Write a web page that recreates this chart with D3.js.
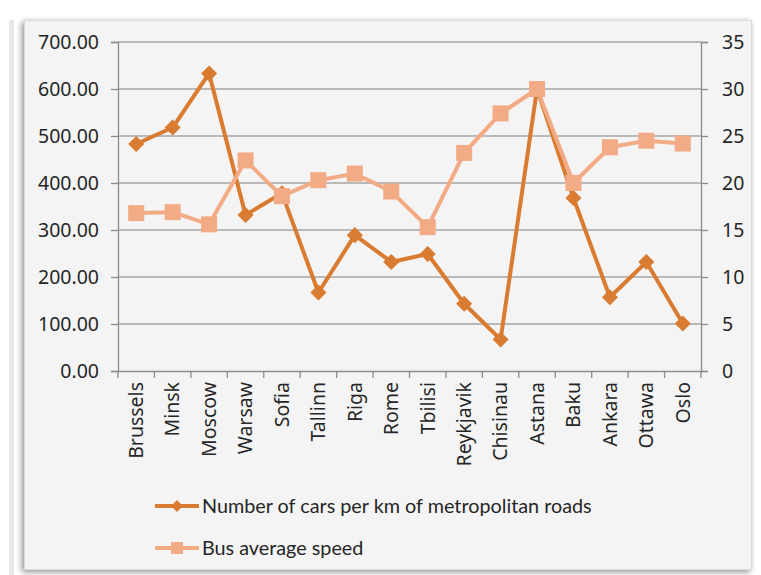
<!DOCTYPE html>
<html>
<head>
<meta charset="utf-8">
<script src="https://cdn.jsdelivr.net/npm/d3@7"></script>
<style>
  html, body { margin: 0; padding: 0; background: #fff; }
  svg { display: block; }
</style>
</head>
<body>
<div id="chart"></div>
<script>
// Cars per km of metropolitan roads vs bus average speed, by city
const cities = ['Brussels','Minsk','Moscow','Warsaw','Sofia','Tallinn','Riga','Rome','Tbilisi',
  'Reykjavik','Chisinau','Astana','Baku','Ankara','Ottawa','Oslo'];
const carsPerKm = [483, 518, 633, 332, 378, 167, 289, 232, 249, 143, 67, 600, 368, 157, 232, 101];
const busSpeed = [16.8, 16.9, 15.6, 22.4, 18.6, 20.3, 21.0, 19.1, 15.3, 23.2, 27.4, 30.0, 20.0, 23.8, 24.5, 24.2];
const leftTicks = [0, 100, 200, 300, 400, 500, 600, 700];
const rightTicks = [0, 5, 10, 15, 20, 25, 30, 35];
const seriesNames = ['Number of cars per km of metropolitan roads', 'Bus average speed'];

(function(){
  const W = 761, H = 575;
  const carColor = '#d97b30', busColor = '#f2ab85';
  const font = "Noto Sans, sans-serif";

  const svg = d3.select('#chart').append('svg')
    .attr('width', W).attr('height', H);

  const defs = svg.append('defs');
  const sh = defs.append('filter').attr('id','shadow')
    .attr('x','-5%').attr('y','-5%').attr('width','110%').attr('height','110%');
  sh.append('feGaussianBlur').attr('in','SourceAlpha').attr('stdDeviation', 3);
  sh.append('feOffset').attr('dx', -2).attr('dy', 2).attr('result','b');
  sh.append('feComponentTransfer').append('feFuncA').attr('type','linear').attr('slope', 0.45);
  const mg = sh.append('feMerge');
  mg.append('feMergeNode');
  mg.append('feMergeNode').attr('in','SourceGraphic');

  // outer faint strip on the left
  svg.append('rect').attr('x', 9).attr('y', 20).attr('width', 5).attr('height', 555)
    .attr('fill', '#e6e6e6');

  // chart panel
  svg.append('rect')
    .attr('x', 24).attr('y', 20).attr('width', 728).attr('height', 550)
    .attr('fill', '#f4f4f4')
    .attr('filter', 'url(#shadow)');
  svg.append('rect')
    .attr('x', 24.5).attr('y', 20.5).attr('width', 727).attr('height', 549)
    .attr('fill', 'none').attr('stroke', '#dcdcdc');

  const margin = {left: 118, right: W - 701, top: 42, bottom: H - 371};
  const innerW = W - margin.left - margin.right;
  const innerH = H - margin.top - margin.bottom;

  const g = svg.append('g').attr('transform', `translate(${margin.left},${margin.top})`);

  const x = d3.scaleBand().domain(cities).range([0, innerW]);
  const yL = d3.scaleLinear().domain([0, 700]).range([innerH, 0]);
  const yR = d3.scaleLinear().domain([0, 35]).range([innerH, 0]);

  // gridlines
  g.append('g').selectAll('line').data(leftTicks.filter(d => d > 0)).enter().append('line')
    .attr('x1', 0).attr('x2', innerW)
    .attr('y1', d => yL(d)).attr('y2', d => yL(d))
    .attr('stroke', '#a6a6a6').attr('stroke-width', 1.3);

  // left axis
  const axL = g.append('g')
    .call(d3.axisLeft(yL).tickValues(leftTicks).tickSize(7).tickPadding(12).tickFormat(d3.format('.2f')));
  // right axis
  const axR = g.append('g').attr('transform', `translate(${innerW},0)`)
    .call(d3.axisRight(yR).tickValues(rightTicks).tickSize(7).tickPadding(14));
  // bottom axis: ticks at category boundaries
  const axB = g.append('g').attr('transform', `translate(0,${innerH})`)
    .call(d3.axisBottom(x).tickSize(0).tickPadding(10));
  axB.append('g').selectAll('line')
    .data(d3.range(cities.length + 1)).enter().append('line')
    .attr('x1', i => i * x.step()).attr('x2', i => i * x.step())
    .attr('y1', 0).attr('y2', 7)
    .attr('stroke', '#8c8c8c').attr('stroke-width', 1.3);

  [axL, axR, axB].forEach(a => {
    a.attr('font-family', font);
    a.select('.domain').attr('stroke', '#8c8c8c').attr('stroke-width', 1.3);
    a.selectAll('.tick line').attr('stroke', '#8c8c8c').attr('stroke-width', 1.3);
    a.selectAll('text').attr('fill', '#262626').style('font-family', font);
  });
  axL.selectAll('text').style('font-size', '19.5px');
  axR.selectAll('text').style('font-size', '19.5px');
  axB.selectAll('.tick text')
    .style('font-size', '19.5px')
    .attr('transform', 'rotate(-90)')
    .attr('text-anchor', 'end')
    .attr('dy', '0.35em')
    .attr('x', -11).attr('y', 0);

  const cx = d => x(d) + x.bandwidth() / 2;

  // cars series
  const carLine = d3.line().x((d, i) => cx(cities[i])).y(d => yL(d));
  g.append('path').datum(carsPerKm)
    .attr('d', carLine).attr('fill', 'none')
    .attr('stroke', carColor).attr('stroke-width', 4).attr('stroke-linejoin', 'round');
  g.append('g').selectAll('path').data(carsPerKm).enter().append('path')
    .attr('d', d3.symbol().type(d3.symbolSquare).size(130))
    .attr('transform', (d, i) => `translate(${cx(cities[i])},${yL(d)}) rotate(45)`)
    .attr('fill', carColor);

  // bus series
  const busLine = d3.line().x((d, i) => cx(cities[i])).y(d => yR(d));
  g.append('path').datum(busSpeed)
    .attr('d', busLine).attr('fill', 'none')
    .attr('stroke', busColor).attr('stroke-width', 4).attr('stroke-linejoin', 'round');
  g.append('g').selectAll('rect').data(busSpeed).enter().append('rect')
    .attr('x', (d, i) => cx(cities[i]) - 8).attr('y', d => yR(d) - 8)
    .attr('width', 16).attr('height', 16)
    .attr('fill', busColor);

  // legend
  const legend = svg.append('g').attr('transform', 'translate(155,506)');
  seriesNames.forEach((name, i) => {
    const row = legend.append('g').attr('transform', `translate(0,${i * 42})`);
    const col = i === 0 ? carColor : busColor;
    row.append('line').attr('x1', 0).attr('x2', 44).attr('y1', 0).attr('y2', 0)
      .attr('stroke', col).attr('stroke-width', 4);
    if (i === 0) {
      row.append('path')
        .attr('d', d3.symbol().type(d3.symbolSquare).size(70))
        .attr('transform', 'translate(22,0) rotate(45)')
        .attr('fill', col);
    } else {
      row.append('rect').attr('x', 16).attr('y', -6).attr('width', 12).attr('height', 12)
        .attr('fill', col);
    }
    row.append('text').attr('x', 47).attr('y', 0).attr('dy', '0.35em')
      .style('font-family', "Lato, sans-serif").style('font-size', '19.8px')
      .attr('fill', '#262626')
      .text(name);
  });
})();
</script>
</body>
</html>
